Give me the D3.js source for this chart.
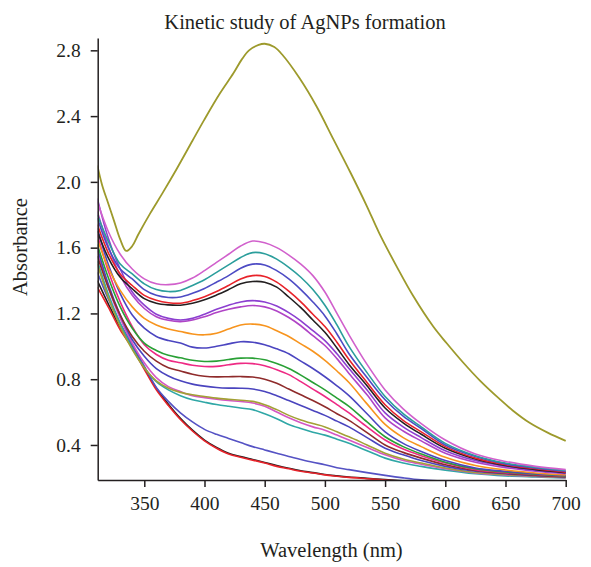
<!DOCTYPE html>
<html><head><meta charset="utf-8">
<script src="https://cdn.jsdelivr.net/npm/d3@7"></script>
<style>
html,body{margin:0;padding:0;background:#fff;}
svg text{font-family:"Liberation Serif","DejaVu Serif",serif;fill:#231f20;}
</style></head>
<body>
<svg id="chart" width="591" height="567"></svg>
<script>
// ---- data ----
const title = "Kinetic study of AgNPs formation";
const xLabel = "Wavelength (nm)";
const yLabel = "Absorbance";
const xTicks = [350,400,450,500,550,600,650,700];
const yTicks = [0.4,0.8,1.2,1.6,2.0,2.4,2.8];

// wavelengths for the highest (final) spectrum
const wlTop = [311,315,320,325,330,335,340,345,355,365,377,390,400,413,424,431,437,445,450,458,465,479,493,507,521,535,545,560,573,590,601,615,629,645,656,670,685,700];
const absTop = [2.10,1.98,1.87,1.76,1.65,1.58,1.61,1.68,1.81,1.93,2.08,2.25,2.38,2.54,2.66,2.745,2.80,2.833,2.84,2.82,2.77,2.63,2.46,2.26,2.06,1.85,1.69,1.48,1.31,1.12,1.02,0.90,0.79,0.68,0.61,0.535,0.475,0.425];

// shared wavelength grid for the other spectra
const wavelengths = [311,320,330,340,350,360,370,380,390,400,410,420,430,440,450,460,470,480,490,500,510,520,535,550,565,580,600,625,650,675,700];

const sMagenta = [1.88,1.70,1.56,1.47,1.41,1.38,1.375,1.385,1.415,1.46,1.51,1.56,1.61,1.64,1.63,1.60,1.555,1.50,1.43,1.33,1.20,1.07,0.89,0.735,0.62,0.53,0.43,0.345,0.30,0.27,0.25];
const sTeal = [1.80,1.64,1.50,1.44,1.38,1.345,1.333,1.34,1.37,1.405,1.45,1.495,1.54,1.57,1.563,1.53,1.48,1.42,1.345,1.25,1.13,1.00,0.84,0.695,0.59,0.51,0.41,0.335,0.29,0.265,0.245];
const sBlue1 = [1.78,1.60,1.47,1.41,1.345,1.31,1.297,1.30,1.322,1.352,1.39,1.43,1.475,1.50,1.495,1.46,1.41,1.345,1.27,1.185,1.075,0.955,0.81,0.675,0.575,0.50,0.40,0.33,0.285,0.26,0.24];
const sRed1 = [1.74,1.57,1.44,1.37,1.31,1.28,1.265,1.262,1.278,1.302,1.333,1.37,1.41,1.43,1.425,1.39,1.335,1.27,1.195,1.12,1.025,0.92,0.78,0.645,0.55,0.48,0.39,0.32,0.28,0.255,0.235];
const sBlack1 = [1.70,1.54,1.42,1.35,1.29,1.262,1.252,1.25,1.262,1.283,1.312,1.345,1.38,1.394,1.39,1.36,1.30,1.235,1.16,1.085,0.99,0.89,0.76,0.625,0.535,0.465,0.38,0.315,0.275,0.25,0.232];
const sPurple1 = [1.90,1.66,1.47,1.33,1.25,1.195,1.17,1.16,1.17,1.195,1.225,1.25,1.27,1.278,1.27,1.245,1.205,1.155,1.095,1.035,0.955,0.865,0.735,0.595,0.51,0.445,0.365,0.305,0.27,0.245,0.23];
const sPurple2 = [1.82,1.61,1.43,1.31,1.23,1.18,1.158,1.15,1.16,1.18,1.205,1.225,1.24,1.248,1.24,1.215,1.175,1.125,1.065,1.005,0.925,0.835,0.705,0.565,0.485,0.425,0.35,0.295,0.262,0.24,0.225];
const sOrange = [1.65,1.48,1.34,1.24,1.17,1.13,1.105,1.09,1.075,1.07,1.08,1.105,1.13,1.135,1.125,1.095,1.06,1.015,0.97,0.915,0.85,0.78,0.65,0.525,0.445,0.39,0.325,0.275,0.248,0.23,0.218];
const sBlue2 = [1.72,1.50,1.32,1.19,1.11,1.06,1.035,1.02,0.995,0.99,1.00,1.015,1.028,1.025,1.01,0.985,0.955,0.91,0.865,0.815,0.76,0.70,0.59,0.48,0.41,0.36,0.305,0.26,0.24,0.225,0.214];
const sGreen = [1.62,1.42,1.24,1.11,1.02,0.975,0.945,0.93,0.915,0.908,0.91,0.92,0.928,0.928,0.918,0.895,0.865,0.825,0.78,0.735,0.685,0.635,0.54,0.45,0.39,0.345,0.295,0.255,0.236,0.222,0.212];
const sPink1 = [1.68,1.46,1.27,1.12,1.01,0.95,0.915,0.90,0.885,0.877,0.878,0.888,0.896,0.895,0.882,0.858,0.828,0.785,0.74,0.695,0.645,0.595,0.51,0.43,0.375,0.335,0.29,0.25,0.232,0.22,0.21];
const sBrown = [1.55,1.36,1.19,1.06,0.97,0.91,0.87,0.85,0.83,0.818,0.814,0.815,0.816,0.813,0.80,0.775,0.74,0.705,0.67,0.632,0.59,0.55,0.475,0.40,0.355,0.32,0.28,0.245,0.228,0.216,0.207];
const sBlue3 = [1.60,1.38,1.19,1.04,0.94,0.865,0.82,0.79,0.77,0.758,0.75,0.746,0.745,0.74,0.725,0.70,0.67,0.64,0.61,0.58,0.545,0.51,0.445,0.38,0.34,0.305,0.27,0.24,0.225,0.213,0.205];
const sOlive2 = [1.50,1.30,1.12,0.98,0.87,0.79,0.745,0.72,0.705,0.695,0.685,0.678,0.672,0.665,0.645,0.615,0.58,0.552,0.53,0.51,0.48,0.45,0.40,0.35,0.315,0.29,0.26,0.233,0.22,0.21,0.203];
const sPink2 = [1.58,1.36,1.17,1.02,0.90,0.81,0.755,0.725,0.70,0.688,0.678,0.67,0.664,0.655,0.635,0.60,0.565,0.535,0.51,0.49,0.46,0.43,0.385,0.34,0.305,0.283,0.255,0.23,0.217,0.208,0.201];
const sTeal2 = [1.52,1.32,1.14,0.99,0.87,0.785,0.735,0.70,0.675,0.66,0.646,0.635,0.625,0.615,0.59,0.56,0.525,0.50,0.478,0.46,0.435,0.41,0.365,0.32,0.29,0.27,0.247,0.225,0.212,0.205,0.199];
const sBlueLow = [1.45,1.29,1.14,1.01,0.88,0.75,0.665,0.595,0.54,0.495,0.465,0.44,0.415,0.39,0.37,0.35,0.33,0.312,0.295,0.28,0.262,0.25,0.232,0.215,0.20,0.188,0.18,0.175,0.172,0.17,0.168];
const sBlackLow = [1.40,1.26,1.115,1.00,0.87,0.745,0.648,0.562,0.49,0.43,0.385,0.35,0.33,0.312,0.294,0.275,0.258,0.243,0.232,0.22,0.212,0.205,0.197,0.189,0.182,0.177,0.172,0.167,0.162,0.16,0.157];
const sRedLow = [1.36,1.24,1.10,0.99,0.86,0.735,0.64,0.555,0.485,0.425,0.38,0.345,0.325,0.308,0.29,0.27,0.255,0.24,0.23,0.218,0.21,0.203,0.195,0.187,0.18,0.175,0.17,0.165,0.16,0.158,0.155];

const seriesValues = [sBlackLow,sRedLow,sBlueLow,sTeal2,sPink2,sOlive2,sBlue3,sBrown,sPink1,sGreen,sBlue2,sOrange,sPurple2,sPurple1,sBlack1,sRed1,sBlue1,sTeal,sMagenta];
const seriesColors = ["#231f20","#e8232a","#5552c4","#2fa7a6","#d456c4","#a3a035","#4a44be","#8f2b2b","#ee2a84","#29a035","#4b45c0","#f7941e","#b044c6","#8c3fd0","#231f20","#e8232a","#4d4bc4","#2b9e9c","#d160cc"];
const topColor = "#9d9a2c";

// ---- layout ----
const svg = d3.select("#chart");
const x = d3.scaleLinear().domain([311.3, 700]).range([97.7, 565.7]);
const y = d3.scaleLinear().domain([0.187, 2.875]).range([480, 38]);

svg.append("defs").append("clipPath").attr("id","clip")
  .append("rect").attr("x",97.7).attr("y",30).attr("width",470).attr("height",450);

const line = d3.line().x(d=>x(d[0])).y(d=>y(d[1])).curve(d3.curveCatmullRom.alpha(0.5));
const g = svg.append("g").attr("clip-path","url(#clip)");

seriesValues.forEach((vals,i)=>{
  g.append("path")
    .attr("d", line(wavelengths.map((w,j)=>[w, vals[j]])))
    .attr("fill","none").attr("stroke",seriesColors[i]).attr("stroke-width",1.6);
});
g.append("path")
  .attr("d", line(wlTop.map((w,j)=>[w, absTop[j]])))
  .attr("fill","none").attr("stroke",topColor).attr("stroke-width",1.8);

// axes
const xAxis = d3.axisBottom(x).tickValues(xTicks).tickSize(7).tickSizeOuter(0).tickPadding(9).tickFormat(d3.format("d"));
const yAxis = d3.axisLeft(y).tickValues(yTicks).tickSize(7).tickSizeOuter(0).tickPadding(10).tickFormat(d3.format(".1f"));

const gx = svg.append("g").attr("transform","translate(0,480)").call(xAxis);
const gy = svg.append("g").attr("transform","translate(97.7,0)").call(yAxis);
[gx,gy].forEach(a=>{
  a.selectAll("path,line").attr("stroke","#231f20").attr("stroke-width",1.5);
  a.selectAll("text").attr("font-size",19.5).attr("font-family","Liberation Serif, serif").attr("fill","#231f20");
});

svg.append("text").attr("x",305).attr("y",29).attr("text-anchor","middle")
  .attr("font-size",20.5).text(title);
svg.append("text").attr("x",331.5).attr("y",557).attr("text-anchor","middle")
  .attr("font-size",20.5).text(xLabel);
svg.append("text").attr("transform","translate(27,247) rotate(-90)").attr("text-anchor","middle")
  .attr("font-size",20.5).text(yLabel);
</script>
</body></html>
